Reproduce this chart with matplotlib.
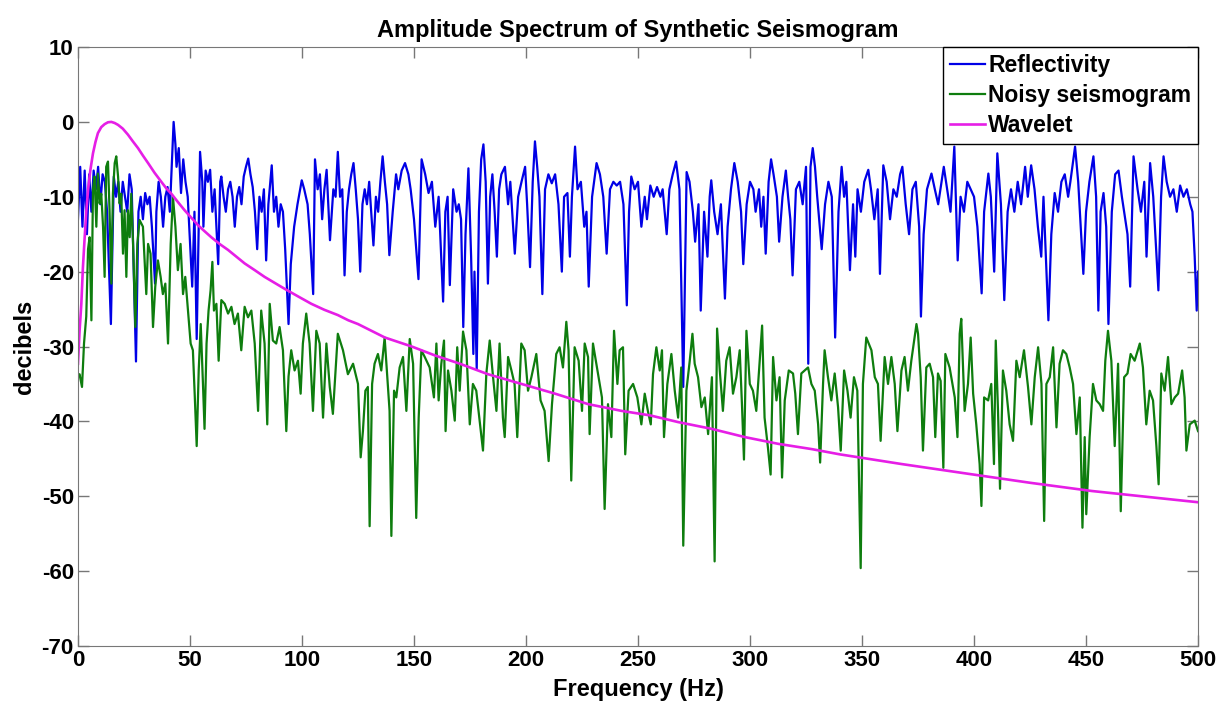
import numpy as np
import matplotlib.pyplot as plt

# values, as (frequency Hz, level dB) pairs
reflectivity = [
    (0, -13), (1, -6), (2, -14), (3, -6.5), (4, -15), (5, -7), (6, -12), (7, -6.5), (8, -9), (9, -6),
    (10, -11), (11, -7), (12, -8), (13, -12), (14.7, -27), (16, -7.3), (17, -10), (18, -8), (19, -12),
    (20, -8), (21, -10), (22, -12), (23, -7), (24, -9), (25.9, -32), (27, -12), (28, -10), (29, -13),
    (30, -9.5), (31, -11), (32, -10), (33, -14), (34.4, -21.6), (35, -12), (36, -8), (37, -10), (38, -14),
    (39, -10), (40, -8.7), (41, -12), (42.7, 0), (43.5, -3), (44, -6), (45, -3.5), (46, -9.5), (47, -5),
    (48, -8), (49, -10), (50, -16), (51, -22), (52, -12), (53, -29), (54.5, -4), (55.5, -8), (56, -14),
    (57, -6.5), (58, -8), (59, -6.4), (60, -12), (61, -9), (62.6, -19), (63.5, -8), (64, -7.3), (65, -10),
    (66, -12), (67, -9), (68, -8), (69, -10), (70, -14), (71, -10), (72, -8.7), (73, -11), (74, -7.3),
    (75, -6), (76, -4.9), (77, -7), (78, -8.7), (79, -12), (80, -17), (81, -10), (82, -12), (83, -9),
    (84, -18.5), (85, -11), (86.5, -5.8), (87.5, -12), (88.5, -10), (89.5, -14), (90.5, -11), (91.5, -12),
    (92.5, -17), (94, -27), (95, -19), (96.5, -14), (98, -11), (99.9, -7.8), (101, -9), (102.5, -11),
    (103.5, -15), (105, -23), (105.8, -5), (107, -9), (108, -7), (109, -13), (110, -9), (111, -6.4),
    (112.5, -15.8), (114, -9), (115, -10), (116, -4), (117, -10), (118, -9), (119, -20.5), (120, -12),
    (121, -9), (122, -7), (123, -5.5), (124, -9), (125, -13), (126, -20), (127, -11), (128, -9), (129, -11),
    (130, -8), (131.9, -16.5), (133, -10), (134, -12), (135, -8), (136, -4.6), (137, -8), (138, -11),
    (139, -17.8), (140.5, -12), (142, -7), (143, -9), (144.5, -6.5), (146, -5.5), (147.5, -7), (148.5, -9),
    (150, -13), (152, -21), (153.4, -5), (155, -7), (156.5, -9.5), (158, -8), (159.5, -14), (161, -10),
    (163, -24), (164, -12), (165, -10), (166, -21.8), (167.5, -9), (169, -12), (170, -11), (171, -13),
    (172, -27.4), (173, -15), (174.3, -6.2), (175.5, -18), (176.5, -31), (177, -20), (178, -33), (179, -12),
    (180, -5), (181, -3), (182, -8), (183, -21.6), (184, -10), (185, -7), (186, -12), (187, -18), (188, -9),
    (189, -7), (190.6, -6), (192, -11), (193, -8), (195, -17.6), (196.5, -10), (198, -8), (199.6, -6),
    (200.5, -11), (201.8, -19.4), (203, -8), (204, -2.6), (205, -6), (206, -10), (207.3, -23), (208.5, -9),
    (210, -7), (211.5, -8.2), (213, -7), (214.5, -11), (216, -20), (217, -10), (218.5, -9.5), (219.6, -18),
    (220.5, -10), (221.9, -3.3), (223, -9), (224.5, -8), (226, -14), (227, -12), (228, -22), (229.5, -10),
    (231.5, -5.5), (233, -7), (234.5, -10), (236, -17.6), (237.5, -9), (239, -8), (240.5, -8.5), (242, -8),
    (243.5, -11), (245, -24.5), (246, -12), (247, -7.3), (248.5, -9), (250, -8), (251.5, -14), (253, -10),
    (254, -13), (255.5, -8.5), (257, -10), (258.5, -8.7), (260, -10), (261, -9), (262.8, -15), (264, -9),
    (265.5, -7), (267, -5.3), (268.5, -9), (270.2, -35.4), (271.7, -6.7), (273, -8), (274.5, -12),
    (275.5, -16), (277, -11), (278, -25.2), (279.5, -12), (281, -18), (282, -10), (282.7, -7.8), (284, -12),
    (285.5, -15), (287, -11), (288.8, -23.6), (290, -14), (291.5, -9), (293, -5.5), (294.5, -8), (296, -12),
    (297, -19), (298.5, -11), (300, -8), (301.5, -9), (302.5, -12), (304, -9), (305, -14), (306, -10),
    (307, -17.6), (308.3, -8), (309.4, -5), (310.5, -7), (312, -10), (313, -16), (314.5, -10), (316, -6.5),
    (317, -10), (318, -13), (319, -20.5), (320.5, -9), (322, -8), (323.5, -11), (325, -6), (326, -32.3),
    (327, -6), (328, -3.5), (329, -6), (330, -10), (332, -17), (333.5, -11), (335, -8), (336.5, -10),
    (338, -28.8), (339.5, -12), (340.9, -6), (342, -10), (343, -8), (344.6, -19.8), (346, -11), (347, -18),
    (348, -9), (349.5, -12), (351, -8), (352.8, -6.4), (354, -9), (355.5, -13), (357, -9), (358, -20.3),
    (359.5, -5.8), (361, -8), (362.5, -13), (364, -9), (365.5, -10), (367, -7), (368, -6), (369.5, -11),
    (371, -15), (372.5, -9), (374, -8), (375.5, -14), (376.3, -26), (377.5, -15), (379, -9), (381, -6.9),
    (382.5, -9), (384, -11), (385.5, -8), (386.5, -6), (388, -9), (389.5, -12), (391.2, -3.3),
    (392.7, -18.5), (394, -10), (395.5, -12), (397, -8), (398.5, -9), (400, -10), (401.5, -14),
    (403.4, -22.9), (404.5, -12), (406.4, -6.9), (407.5, -10), (409, -20), (410.4, -4.2), (412, -11),
    (413.5, -23.8), (415, -12), (416.5, -9), (418, -12), (419.5, -8), (421, -11), (422.8, -6), (424, -10),
    (425.5, -5.8), (427, -9), (428.5, -14), (430, -18), (431, -10), (433.2, -26.5), (434.5, -15),
    (436, -9.5), (437.5, -12), (439, -8), (440.5, -7), (442, -10), (443, -8), (445.1, -3.3), (446.5, -8),
    (448.8, -20.3), (450, -12), (451.5, -8), (453.3, -4.6), (454.5, -10), (455.5, -25.2), (456.5, -12),
    (457.8, -9.5), (459, -14), (460, -27), (461.5, -12), (463, -7), (464.5, -6.5), (466, -10), (467, -12),
    (468.5, -15), (469.7, -22), (471.2, -4.6), (473, -9), (474.5, -12), (476, -8), (477, -18),
    (478.6, -5.5), (480, -10), (482.3, -22.5), (483.5, -10), (484.6, -4.6), (486, -8), (487.5, -10),
    (489, -9), (490.5, -12), (492, -8.5), (493.5, -10), (495, -9), (496.5, -11), (497.5, -12),
    (498.5, -18), (499.4, -25.2), (500, -20),
]

noisy = [
    (0, -34), (0.7, -33.7), (1.8, -35.4), (2.7, -29.6), (3.7, -26), (4.5, -17), (5.2, -15.4), (6, -26.5),
    (6.7, -9.1), (7.4, -7.3), (8.2, -14), (8.9, -6.9), (9.7, -10.9), (10.4, -9.6), (11.2, -14),
    (11.9, -20.7), (12.6, -6), (13.4, -5.3), (14.1, -11.8), (14.9, -21.6), (15.6, -9.6), (16.4, -5.5),
    (17.1, -4.6), (17.9, -7.3), (18.6, -10.9), (19.3, -9.6), (20.1, -17.6), (20.8, -11.8), (21.6, -20.7),
    (22.3, -11.8), (23.1, -15.4), (23.8, -9.6), (24.6, -16.3), (25.6, -27.4), (26.5, -16.3), (27.5, -13.1),
    (29, -14), (30.5, -23), (31.3, -16.3), (32.4, -17.6), (33.5, -27.4), (34.5, -22), (35.7, -18.5),
    (36.9, -20.7), (37.9, -23), (39, -21.6), (40.2, -29.6), (41.4, -16.3), (42.4, -10), (43.5, -14),
    (44.6, -19.8), (45.8, -16.3), (46.9, -23), (47.9, -20.7), (49.1, -25.2), (50.3, -29.6), (51.3, -30.5),
    (52.1, -36.3), (53, -43.3), (53.9, -33.2), (54.8, -27), (55.8, -35), (56.5, -41), (57.4, -29.6),
    (58.3, -25.2), (59.2, -22.5), (60, -18.7), (60.7, -25.2), (61.8, -24.3), (62.8, -31.9), (64, -23.8),
    (65.5, -24.3), (67, -25.6), (68.5, -24.7), (69.9, -27), (71.4, -25.6), (72.9, -30.5), (74.4, -24.7),
    (75.9, -26.1), (77.4, -25.2), (78.9, -29.6), (80.4, -38.6), (81.8, -25.2), (83.3, -29.6),
    (84.5, -40.4), (85.6, -24.3), (87, -29.2), (88.5, -29.6), (90, -27.4), (91.5, -30.5), (93, -41.3),
    (94, -34), (95.2, -30.5), (96.7, -33.2), (98.2, -31.9), (99.4, -36.3), (100.4, -29.6), (101.9, -25.6),
    (103.4, -29.6), (104.9, -38.6), (106.4, -27.9), (107.9, -29.6), (109.4, -39.5), (110.9, -29.6),
    (112.4, -35.4), (113.8, -39), (116, -28.3), (118.3, -30.5), (120.5, -33.7), (122.8, -32.3),
    (125, -35), (126.2, -44.8), (127.2, -41.3), (128.3, -35.9), (129.4, -35.4), (130.2, -54),
    (131.3, -35), (132.4, -32.3), (133.9, -31), (135.4, -33.2), (136.9, -28.8), (138.1, -34.1),
    (139.1, -38.6), (139.9, -55.3), (141.1, -35.9), (142.1, -36.8), (143.6, -32.8), (145.1, -31.4),
    (146.6, -38.6), (148.1, -29), (149.6, -32.3), (151, -52.9), (152.1, -39.5), (153.3, -30.5),
    (154.8, -31.4), (157, -32.8), (158.9, -36.8), (160, -29.6), (161, -37.2), (162.2, -32.3),
    (163.4, -29.2), (164.1, -41.3), (165.2, -33.2), (166.7, -35.9), (168.2, -39.9), (169.3, -30.1),
    (170.4, -35.9), (171.9, -28), (173.4, -30.5), (174.9, -40.4), (176.3, -35), (177.8, -35.9),
    (179.3, -39.9), (180.8, -43.9), (182.3, -33.6), (183.8, -29.2), (185.3, -34.1), (186.8, -38.6),
    (188.2, -29.6), (189.7, -39.5), (190.5, -42.1), (192, -31.4), (193.5, -33.2), (194.9, -35),
    (196.1, -42.1), (197.9, -29.6), (199.4, -30.5), (200.9, -35.9), (202.4, -34.1), (204.6, -31),
    (206.5, -37.2), (208.3, -38.6), (210.1, -45.3), (211.6, -37.7), (213.5, -31), (215, -30.1),
    (216.5, -32.8), (218, -26.7), (219, -30.5), (220.2, -47.9), (221.7, -30.1), (223.5, -31.9),
    (225, -38.6), (226.2, -29.6), (227.7, -31.4), (228.4, -41.7), (229.9, -29.6), (231.4, -32.3),
    (232.9, -35), (233.9, -36.8), (235.1, -51.7), (236.6, -37.7), (238.1, -42.1), (239.3, -27.9),
    (240.8, -35), (241.8, -30.5), (243.3, -30.1), (244.3, -44.4), (245.8, -35.9), (247.8, -35),
    (249.7, -36.8), (251.5, -40.4), (253, -36.3), (254.4, -38.6), (255.7, -40.4), (256.7, -33.7),
    (258.2, -30.1), (259.7, -33.2), (260.7, -30.5), (261.6, -42.1), (263.1, -35), (264.9, -31),
    (266.4, -35.9), (267.9, -39.5), (269.3, -32.8), (270.2, -56.6), (271.6, -35.9), (273.1, -31.9),
    (274.3, -28.3), (275.3, -32.3), (276.8, -34.1), (278.3, -38.1), (279.8, -36.8), (281.3, -41.7),
    (283, -34.1), (284.2, -58.7), (285.3, -27.6), (286.5, -33.2), (287.9, -38.6), (289.4, -31.9),
    (290.9, -30.1), (292.4, -36.3), (293.9, -34.1), (295.4, -30.5), (296.4, -37.7), (297.3, -45.1),
    (298.4, -27.9), (299.9, -35), (301.3, -35.9), (302.8, -38.6), (304.3, -31.9), (305.4, -27.2),
    (306.5, -39.5), (308, -43.5), (309.2, -47.1), (310.3, -31.4), (311.8, -37.2), (313.2, -34.1),
    (314.3, -47.5), (315.5, -37.2), (317.3, -33.2), (319.2, -33.6), (320.2, -36.3), (321.4, -41.7),
    (322.9, -33.6), (324.4, -33.2), (325.9, -32.8), (327.4, -35), (328.9, -35.9), (330.4, -40.4),
    (331.3, -45.5), (332.6, -35), (333.3, -30.5), (334.8, -34.1), (336.3, -37.2), (337.8, -33.6),
    (339.3, -38.1), (340.5, -43.9), (342, -33.2), (343.5, -35.9), (344.9, -39.5), (346.4, -34.1),
    (347.9, -35.9), (349.4, -59.6), (350.4, -35), (351.9, -28.8), (354.2, -30.5), (355.7, -34.1),
    (357.1, -35), (358.3, -42.6), (360.1, -31.4), (361.6, -35), (363.1, -31.4), (364.6, -35),
    (365.8, -41.3), (367.6, -33.2), (369, -31.4), (370.5, -35.9), (372, -31.9), (374.3, -27),
    (375, -28.3), (376.2, -34.1), (377.2, -43.9), (378.7, -32.8), (380.2, -32.3), (381.7, -34.1),
    (382.7, -42.1), (383.9, -33.6), (385.1, -34.6), (386.3, -46.2), (387.2, -31), (389.1, -32.8),
    (391.4, -36.8), (392.6, -42.1), (393.6, -28.3), (394.3, -26.3), (395.8, -38.6), (397.3, -35),
    (398.5, -28.8), (399.6, -36.3), (401, -40.4), (402.5, -45.7), (403.3, -51.3), (404.5, -36.8),
    (406.3, -37.2), (407.7, -35), (408.9, -45.7), (409.7, -29.2), (410.7, -38.6), (411.6, -49),
    (412.9, -33.2), (414.4, -35.9), (415.9, -40.4), (417.4, -42.6), (418.9, -31.9), (420.4, -34.1),
    (422.3, -30.5), (424.1, -35.4), (425.6, -40.4), (427.1, -34.1), (428.6, -30.1), (430.1, -35),
    (431.3, -53.3), (432.3, -35), (433.8, -34.1), (435.3, -30.1), (436.8, -40.8), (438.2, -32.3),
    (439.7, -30.5), (441.2, -31), (442.7, -32.8), (444.2, -35), (445.7, -41.7), (447.2, -36.8),
    (448.4, -54.2), (449.4, -42.1), (450.1, -52.4), (451.6, -42.1), (453.1, -35), (454.6, -37.2),
    (456.1, -37.7), (457.6, -38.6), (458.6, -31.9), (459.8, -27.9), (461.3, -31.9), (462.8, -43.3),
    (464.3, -32.3), (465.5, -52), (467, -34.1), (468.5, -33.6), (469.9, -31), (471.7, -31.9),
    (474, -29.6), (475.4, -32.8), (476.9, -40.4), (478.4, -35.9), (479.9, -37.2), (481.4, -43.3),
    (482.4, -48.4), (483.6, -33.6), (485.1, -35.9), (486.6, -31.4), (488.1, -37.7), (489.6, -36.8),
    (491.1, -36.3), (492.9, -33.2), (494, -36.8), (494.8, -43.9), (496.3, -40.4), (498.5, -39.9),
    (500, -41.3),
]

wavelet = [
    (0, -32.3), (0.7, -28), (1.5, -24.3), (2.2, -19.5), (3, -15.4), (3.7, -12), (4.5, -9.1), (5.5, -6.5),
    (6.7, -4.2), (7.8, -2.7), (8.9, -1.5), (10.4, -0.7), (11.9, -0.3), (13.4, -0.05), (14.9, 0),
    (16.4, -0.15), (17.9, -0.4), (20, -0.9), (22.3, -1.7), (24.5, -2.6), (26.8, -3.5), (29, -4.5),
    (31.3, -5.5), (34.2, -6.8), (37.2, -8), (39.5, -8.9), (41.7, -9.6), (44.6, -10.7), (47.6, -11.8),
    (50.6, -12.8), (53.6, -13.8), (56.5, -14.6), (59.5, -15.4), (63.2, -16.3), (67, -17.1), (70.7, -18),
    (74.4, -18.9), (78.9, -19.8), (83.3, -20.7), (87.8, -21.5), (92.3, -22.3), (98.2, -23.3),
    (104.2, -24.3), (110, -25.1), (116, -25.8), (120.7, -26.5), (125, -27), (137, -28.8), (149, -30),
    (159.4, -31.2), (170.5, -32.3), (183, -33.7), (198, -35), (213, -36.3), (227.8, -37.7),
    (242.7, -38.6), (255.4, -39.2), (268, -40.1), (282.9, -41), (297.7, -42.1), (312.6, -43),
    (327.5, -43.7), (340, -44.4), (367.7, -45.7), (397.4, -47), (425, -48.2), (452.6, -49.3),
    (500, -50.8),
]

plt.rcParams['font.family'] = ['Liberation Sans', 'DejaVu Sans']
plt.rcParams['font.weight'] = 'bold'
plt.rcParams['axes.unicode_minus'] = False

fig = plt.figure(figsize=(12.22, 7.04), dpi=100)
ax = fig.add_axes([0.0638, 0.0824, 0.9166, 0.8508])

for data, col, lw, name in [(reflectivity, '#0000e6', 1.6, 'Reflectivity'),
                            (noisy, '#0e7d0e', 1.6, 'Noisy seismogram'),
                            (wavelet, '#e61ee6', 1.9, 'Wavelet')]:
    f, db = np.array(data).T
    ax.plot(f, db, color=col, lw=lw, label=name)

ax.set_xlim(0, 500)
ax.set_ylim(-70, 10)
ax.set_xticks(np.arange(0, 501, 50))
ax.set_yticks(np.arange(-70, 11, 10))
ax.tick_params(direction='in', length=8, width=1, top=True, right=True, pad=3,
               labelsize=16, colors='#777777', labelcolor='black')
for lab in ax.get_xticklabels() + ax.get_yticklabels():
    lab.set_fontweight('bold')
for sp in ax.spines.values():
    sp.set_color('#777777')

ax.set_title('Amplitude Spectrum of Synthetic Seismogram', fontsize=17, fontweight='bold', pad=7)
ax.set_xlabel('Frequency (Hz)', fontsize=17, fontweight='bold', labelpad=5)
ax.set_ylabel('decibels', fontsize=17, fontweight='bold', labelpad=4)

leg = ax.legend(loc='upper right', fontsize=16.5, handlelength=1.5, handletextpad=0.15,
                borderpad=0.3, labelspacing=0.3, borderaxespad=0, fancybox=False, framealpha=1)
leg.get_frame().set_edgecolor('black')
leg.get_frame().set_linewidth(1)
for t in leg.get_texts():
    t.set_fontweight('bold')

fig.savefig('out.png', dpi=100, facecolor='white')
